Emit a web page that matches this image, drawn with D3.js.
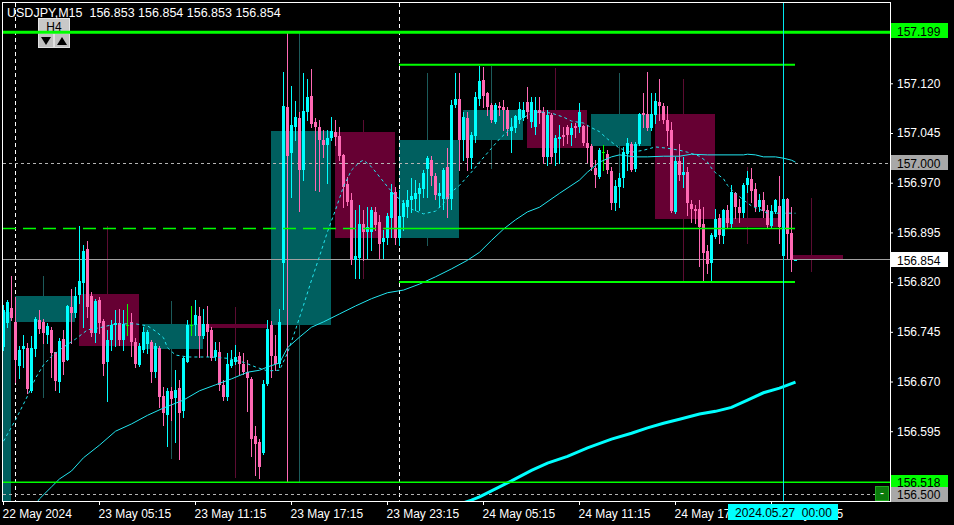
<!DOCTYPE html>
<html><head><meta charset="utf-8">
<script src="https://cdn.jsdelivr.net/npm/d3@7"></script>
<style>
html,body{margin:0;padding:0;background:#000;}
svg{display:block;}
text{font-family:"Liberation Sans",Arial,sans-serif;font-size:12px;white-space:pre;}
</style>
</head><body>
<svg id="c" width="954" height="525"></svg>
<script>
// ---------- DATA ----------
const symbolTitle = "USDJPY,M15  156.853 156.854 156.853 156.854";
const tfButton = "H4";
// M15 candles, index 0 = 22 May 23:15 ; [open, high, low, close]
const ohlc = [
[156.722,156.786,156.718,156.778],[156.758,156.793,156.752,156.790],[156.781,156.829,156.763,156.766],[156.760,156.798,156.669,156.703],
[156.694,156.724,156.676,156.718],[156.719,156.740,156.692,156.723],[156.721,156.728,156.652,156.658],[156.656,156.738,156.654,156.721],
[156.719,156.768,156.708,156.765],[156.763,156.778,156.743,156.749],[156.760,156.765,156.728,156.743],[156.740,156.758,156.728,156.754],
[156.748,156.753,156.677,156.713],[156.714,156.715,156.657,156.671],[156.670,156.735,156.654,156.731],[156.734,156.748,156.682,156.700],
[156.703,156.785,156.702,156.784],[156.782,156.809,156.728,156.774],[156.774,156.813,156.768,156.799],[156.800,156.905,156.788,156.821],
[156.819,156.876,156.753,156.867],[156.870,156.882,156.768,156.783],[156.799,156.805,156.738,156.743],[156.743,156.794,156.730,156.791],
[156.793,156.798,156.743,156.759],[156.761,156.765,156.680,156.697],[156.700,156.748,156.640,156.733],[156.733,156.763,156.718,156.755],
[156.755,156.778,156.723,156.758],[156.758,156.779,156.725,156.732],[156.733,156.778,156.718,156.757],[156.756,156.787,156.740,156.756],
[156.760,156.773,156.708,156.730],[156.730,156.735,156.692,156.696],[156.695,156.728,156.693,156.723],[156.718,156.753,156.715,156.745],
[156.727,156.748,156.713,156.744],[156.730,156.733,156.670,156.684],[156.684,156.728,156.677,156.723],[156.721,156.724,156.632,156.647],
[156.648,156.662,156.604,156.623],[156.619,156.660,156.573,156.655],[156.655,156.662,156.612,156.644],[156.645,156.687,156.579,156.657],
[156.660,156.672,156.553,156.623],[156.626,156.707,156.617,156.705],[156.700,156.763,156.699,156.755],[156.755,156.784,156.740,156.755],
[156.755,156.793,156.740,156.770],[156.769,156.782,156.707,156.738],[156.738,156.780,156.735,156.757],[156.757,156.784,156.708,156.745],
[156.748,156.753,156.702,156.705],[156.707,156.730,156.702,156.717],[156.715,156.730,156.657,156.665],[156.665,156.673,156.642,156.646],
[156.647,156.713,156.642,156.697],[156.694,156.718,156.692,156.703],[156.700,156.725,156.697,156.707],[156.708,156.715,156.682,156.697],
[156.697,156.713,156.682,156.684],[156.685,156.703,156.626,156.675],[156.674,156.677,156.557,156.584],[156.588,156.603,156.529,156.576],
[156.578,156.584,156.525,156.541],[156.562,156.672,156.561,156.666],[156.666,156.763,156.665,156.750],[156.755,156.762,156.677,156.708],
[156.708,156.740,156.687,156.697],[156.697,156.780,156.692,156.760],[156.849,157.137,156.780,157.086],[157.084,157.199,156.518,157.010],
[157.015,157.116,156.949,157.057],[157.054,157.093,157.034,157.069],[157.067,157.077,156.928,156.989],[156.989,157.135,156.974,157.078],
[157.076,157.126,157.065,157.100],[157.101,157.142,157.054,157.059],[157.061,157.067,156.959,157.054],[157.054,157.064,156.958,157.034],
[157.034,157.050,157.009,157.027],[157.027,157.050,156.969,157.038],[157.038,157.069,157.034,157.048],[157.047,157.064,157.027,157.039],
[157.040,157.054,157.004,157.010],[157.012,157.014,156.934,156.964],[156.968,156.979,156.936,156.941],[156.944,156.954,156.848,156.854],
[156.853,156.929,156.826,156.859],[156.856,156.936,156.826,156.908],[156.908,156.929,156.854,156.896],[156.896,156.934,156.856,156.903],
[156.896,156.934,156.868,156.929],[156.926,156.934,156.899,156.906],[156.911,156.921,156.856,156.878],[156.881,156.899,156.856,156.886],
[156.886,156.924,156.878,156.920],[156.916,156.968,156.888,156.956],[156.956,156.964,156.878,156.886],[156.886,156.959,156.876,156.920],
[156.919,156.944,156.899,156.939],[156.934,156.959,156.919,156.944],[156.944,156.977,156.926,156.950],[156.946,156.974,156.929,156.954],
[156.953,156.969,156.929,156.962],[156.960,156.989,156.949,156.984],[156.990,157.010,156.949,157.007],[157.005,157.010,156.966,156.980],
[156.980,156.984,156.946,156.951],[156.950,156.969,156.934,156.954],[156.945,156.992,156.931,156.989],[156.994,157.022,156.919,156.946],
[156.946,157.095,156.931,157.087],[157.087,157.136,157.085,157.097],[157.097,157.135,156.989,157.034],[157.034,157.077,157.004,157.069],
[157.067,157.077,156.989,157.007],[157.007,157.047,156.992,157.042],[157.040,157.107,157.032,157.100],[157.097,157.146,157.087,157.124],
[157.125,157.144,157.085,157.101],[157.105,157.107,157.072,157.085],[157.087,157.090,157.062,157.065],[157.062,157.090,157.060,157.087],
[157.086,157.092,157.072,157.082],[157.085,157.095,157.050,157.080],[157.080,157.085,157.042,157.051],[157.048,157.067,157.017,157.054],
[157.052,157.072,157.047,157.070],[157.065,157.092,157.060,157.081],[157.067,157.092,157.064,157.080],[157.092,157.115,157.067,157.077],
[157.062,157.100,157.054,157.092],[157.054,157.100,157.044,157.080],[157.080,157.100,157.060,157.075],[157.077,157.085,156.999,157.009],
[157.009,157.080,156.996,157.072],[157.072,157.075,156.999,157.009],[157.015,157.042,156.996,157.037],[157.036,157.057,156.999,157.039],
[157.042,157.054,157.027,157.039],[157.054,157.057,157.030,157.042],[157.042,157.060,157.027,157.053],[157.055,157.060,157.039,157.052],
[157.054,157.090,157.047,157.076],[157.055,157.057,157.027,157.030],[157.030,157.057,157.002,157.023],[157.025,157.029,156.989,156.994],
[156.992,157.004,156.964,156.981],[156.979,157.023,156.977,157.019],[157.017,157.027,156.989,157.017],[157.014,157.019,156.984,156.989],
[156.988,156.994,156.931,156.939],[156.939,156.974,156.929,156.965],[156.963,156.984,156.934,156.977],[156.977,157.024,156.964,157.017],
[157.014,157.037,156.989,157.030],[157.029,157.032,156.987,156.989],[156.990,157.032,156.987,157.029],[157.029,157.075,157.027,157.074],
[157.075,157.105,157.054,157.072],[157.073,157.137,157.050,157.052],[157.052,157.105,157.050,157.074],[157.072,157.105,157.060,157.094],
[157.092,157.126,157.065,157.086],[157.086,157.091,157.060,157.065],[157.065,157.086,157.027,157.048],[157.050,157.062,156.926,156.928],
[156.926,157.009,156.925,157.003],[157.003,157.028,156.974,156.981],[156.981,157.009,156.964,156.986],[156.986,156.993,156.921,156.940],
[156.938,156.944,156.911,156.931],[156.931,156.936,156.909,156.928],[156.930,156.944,156.845,156.903],[156.908,156.934,156.821,156.864],
[156.867,156.876,156.834,156.848],[156.849,156.894,156.821,156.891],[156.888,156.931,156.887,156.915],[156.916,156.923,156.879,156.891],
[156.890,156.931,156.879,156.929],[156.929,156.936,156.903,156.909],[156.908,156.966,156.903,156.956],[156.954,156.956,156.916,156.934],
[156.934,156.946,156.911,156.925],[156.925,156.970,156.919,156.966],[156.966,156.988,156.956,156.977],[156.975,156.992,156.941,156.958],
[156.960,156.969,156.928,156.934],[156.933,156.953,156.928,156.944],[156.944,156.956,156.919,156.928],[156.929,156.936,156.903,156.906],
[156.905,156.936,156.903,156.928],[156.926,156.946,156.924,156.944],[156.935,156.980,156.879,156.903],[156.859,156.945,156.858,156.945],
[156.946,156.947,156.856,156.892],[156.894,156.933,156.837,156.853],[156.853,156.854,156.853,156.854]
];
// H4 candles overlay (first / last / middle M15 bar index) and OHLC
const h4Start = [-13, 3, 19, 35, 51, 67, 83, 99, 115, 131, 147, 163, 179, 197];
const h4End   = [2, 18, 34, 50, 66, 82, 98, 114, 130, 146, 162, 178, 194, 210];
const h4Mid   = [-6, 10, 26, 42, 58, 74, 90, 106, 122, 138, 154, 170, 186, 202];
const h4Ohlc = [
[156.470,156.830,156.450,156.775],[156.760,156.829,156.646,156.799],[156.802,156.905,156.640,156.723],
[156.719,156.791,156.554,156.757],[156.757,156.782,156.526,156.751],[156.755,157.199,156.518,157.048],
[157.047,157.064,156.826,156.887],[156.887,157.135,156.876,157.035],[157.034,157.146,156.992,157.080],
[157.079,157.143,156.996,157.023],[157.025,157.136,156.934,157.074],[157.074,157.126,156.821,156.915],
[156.917,156.994,156.879,156.903],[156.861,156.947,156.837,156.854]
];
// moving averages (bar index, value)
const maFastIdx = [0,3,6,8,10,12,15,18,21,24,28,33,36,38,40,41,43,46,52,56,60,63,66,69,71,73,75,77,79,81,83,85,87,89,90,92,94,96,98,100,102,105,108,110,112,114,117,119,122,124,127,129,132,134,137,140,142,145,147,149,151,154,157,160,163,166,169,171,174,176,177,178,180,181,183,185,187,189,191,193,195,198];
const maFastVal = [156.580,156.612,156.648,156.675,156.695,156.708,156.722,156.734,156.748,156.751,156.757,156.757,156.754,156.746,156.736,156.721,156.710,156.707,156.707,156.705,156.699,156.692,156.686,156.687,156.713,156.748,156.785,156.823,156.859,156.896,156.929,156.964,156.989,157.001,157.004,156.994,156.979,156.964,156.950,156.941,156.930,156.923,156.927,156.939,156.956,156.966,156.986,157.001,157.022,157.036,157.053,157.065,157.075,157.077,157.075,157.069,157.063,157.060,157.053,157.047,157.036,157.022,157.016,157.019,157.024,157.022,157.019,157.016,157.010,157.001,156.992,156.985,156.976,156.966,156.954,156.944,156.935,156.930,156.924,156.924,156.924,156.924];
const maMidIdx = [7,9,12,14,17,20,24,28,32,36,40,45,49,53,57,61,64,66,69,71,74,77,80,84,88,92,96,100,104,108,112,116,119,122,125,128,131,134,139,144,146,149,152,154,158,161,165,169,172,176,185,186,188,190,193,195,197,198];
const maMidVal = [156.476,156.493,156.511,156.523,156.535,156.555,156.574,156.595,156.606,156.619,156.630,156.642,156.656,156.665,156.674,156.684,156.687,156.692,156.698,156.721,156.737,156.752,156.760,156.772,156.784,156.795,156.804,156.808,156.817,156.828,156.840,156.853,156.865,156.883,156.900,156.914,156.926,156.933,156.954,156.974,156.986,157.001,157.009,157.012,157.009,157.009,157.010,157.010,157.013,157.012,157.012,157.013,157.012,157.009,157.009,157.007,157.004,157.001];
const maSlowIdx = [115,117,119,124,127,132,136,141,146,152,157,161,165,169,174,178,182,186,190,194,198];
const maSlowVal = [156.487,156.491,156.496,156.511,156.520,156.536,156.547,156.557,156.570,156.583,156.592,156.600,156.607,156.613,156.621,156.625,156.631,156.642,156.653,156.660,156.669];
// levels
const rangeHigh = 157.199, rangeLow = 156.518;
const zoneTop = 157.148, zoneMid = 156.901, zoneBottom = 156.820;
const zoneFromIdx = 99, zoneMidSolidFromIdx = 96, zoneToIdx = 198;
const roundLevels = [157.000, 156.500];
const bidPrice = 156.854;
const separatorIdx = [3, 99];
const cursorIdx = 195, cursorLabel = "2024.05.27  00:00";
const priceTicks = [157.120, 157.045, 156.970, 156.895, 156.820, 156.745, 156.670, 156.595];
const timeTickIdx = [0, 24, 48, 72, 96, 120, 144, 168, 192];
const timeTickLabels = ["22 May 2024","23 May 05:15","23 May 11:15","23 May 17:15","23 May 23:15","24 May 05:15","24 May 11:15","24 May 17:15","24 May 23:15"];

// ---------- CHART ----------
const bull = "#00ffff", bear = "#ff69b4", doji = "#00ff00";
const svg = d3.select("#c");
svg.append("rect").attr("width",954).attr("height",525).attr("fill","#000");
svg.append("defs").append("clipPath").attr("id","plot")
  .append("rect").attr("x",3).attr("y",3).attr("width",887).attr("height",498);

const x = d3.scaleLinear().domain([0,198]).range([3,795]);
const y = d3.scaleLinear().domain([156.4897,157.2427]).range([501,2]);
const X0 = 3, X1 = 890;

const g = svg.append("g").attr("clip-path","url(#plot)");

// H4 overlay
const gh = g.append("g").attr("shape-rendering","crispEdges");
h4Ohlc.forEach((d,k)=>{
  const [o,h,l,c] = d;
  const up = c >= o;
  gh.append("line").attr("x1",x(h4Mid[k])+0.5).attr("x2",x(h4Mid[k])+0.5)
    .attr("y1",Math.round(y(h))).attr("y2",Math.round(y(l))+1)
    .attr("stroke", up ? "#1c5a5a" : "#5c0c32");
  const yt = Math.round(y(Math.max(o,c))), yb = Math.round(y(Math.min(o,c)));
  gh.append("rect").attr("x",x(h4Start[k])).attr("y",yt)
    .attr("width",x(h4End[k])-x(h4Start[k])).attr("height",Math.max(1,yb-yt))
    .attr("fill", up ? "#005f5f" : "#660033");
});

// period separators
separatorIdx.forEach(i=>{
  g.append("line").attr("x1",x(i)+0.5).attr("x2",x(i)+0.5).attr("y1",3).attr("y2",501)
    .attr("stroke","#ffffff").attr("stroke-dasharray","4,3").attr("shape-rendering","crispEdges");
});
// round levels
roundLevels.forEach(p=>{
  g.append("line").attr("x1",X0).attr("x2",X1).attr("y1",Math.round(y(p))+0.5).attr("y2",Math.round(y(p))+0.5)
    .attr("stroke","#b4b4b4").attr("stroke-dasharray","3,3").attr("shape-rendering","crispEdges");
});
// bid line
g.append("line").attr("x1",X0).attr("x2",X1).attr("y1",Math.round(y(bidPrice))-0.5).attr("y2",Math.round(y(bidPrice))-0.5)
  .attr("stroke","#a0a0a0").attr("shape-rendering","crispEdges");

// candles
const gc = g.append("g").attr("shape-rendering","crispEdges");
ohlc.forEach((d,i)=>{
  const [o,h,l,c] = d;
  const col = c>o ? bull : (c<o ? bear : doji);
  const cx = x(i);
  gc.append("line").attr("x1",cx+0.5).attr("x2",cx+0.5)
    .attr("y1",Math.round(y(h))).attr("y2",Math.round(y(l))+1).attr("stroke",col);
  const yt = Math.round(y(Math.max(o,c))), yb = Math.round(y(Math.min(o,c)));
  gc.append("rect").attr("x",cx-1).attr("y",yt).attr("width",3).attr("height",Math.max(1,yb-yt)).attr("fill",col);
});

// moving averages
const line = d3.line().x(d=>x(d[0])+0.5).y(d=>y(d[1]));
g.append("path").datum(d3.zip(maSlowIdx,maSlowVal)).attr("d",line)
  .attr("fill","none").attr("stroke",bull).attr("stroke-width",3);
g.append("path").datum(d3.zip(maMidIdx,maMidVal)).attr("d",line)
  .attr("fill","none").attr("stroke","#22e6f0").attr("stroke-width",1);
g.append("path").datum(d3.zip(maFastIdx,maFastVal)).attr("d",line)
  .attr("fill","none").attr("stroke","#22e6f0").attr("stroke-width",1).attr("stroke-dasharray","3,3");

// timeframe buttons (under the lines)
const btn = svg.append("g").attr("shape-rendering","crispEdges");
btn.append("rect").attr("x",38.5).attr("y",18.5).attr("width",31).attr("height",13).attr("fill","#c8c8c8").attr("stroke","#e6e6e6");
btn.append("text").attr("x",54).attr("y",30.5).attr("text-anchor","middle").attr("fill","#000").style("font-size","12px").text(tfButton);
btn.append("rect").attr("x",38.5).attr("y",33.5).attr("width",15).attr("height",14).attr("fill","#c0c0c0").attr("stroke","#e0e0e0");
btn.append("rect").attr("x",54.5).attr("y",33.5).attr("width",15).attr("height",14).attr("fill","#c0c0c0").attr("stroke","#e0e0e0");
btn.append("path").attr("d","M41,37 L51,37 L46,45 Z").attr("fill","#000").attr("shape-rendering","auto");
btn.append("path").attr("d","M57,45 L67,45 L62,37 Z").attr("fill","#000").attr("shape-rendering","auto");

// green levels
const gl = svg.append("g").attr("clip-path","url(#plot)");
gl.append("line").attr("x1",X0).attr("x2",X1).attr("y1",y(rangeHigh)+1.2).attr("y2",y(rangeHigh)+1.2)
  .attr("stroke","#00ff00").attr("stroke-width",3);
gl.append("line").attr("x1",X0).attr("x2",X1).attr("y1",y(rangeLow)).attr("y2",y(rangeLow))
  .attr("stroke","#00ff00").attr("stroke-width",1.5);
[zoneTop, zoneBottom].forEach(p=>{
  gl.append("line").attr("x1",x(zoneFromIdx)).attr("x2",x(zoneToIdx)).attr("y1",y(p)).attr("y2",y(p))
    .attr("stroke","#00ff00").attr("stroke-width",2);
});
gl.append("line").attr("x1",X0).attr("x2",x(zoneMidSolidFromIdx)).attr("y1",y(zoneMid)).attr("y2",y(zoneMid))
  .attr("stroke","#00ff00").attr("stroke-width",1.5).attr("stroke-dasharray","13,7");
gl.append("line").attr("x1",x(zoneMidSolidFromIdx)).attr("x2",x(zoneToIdx)).attr("y1",y(zoneMid)).attr("y2",y(zoneMid))
  .attr("stroke","#00ff00").attr("stroke-width",1.5);

// cursor vertical line
svg.append("line").attr("x1",x(cursorIdx)+0.5).attr("x2",x(cursorIdx)+0.5).attr("y1",3).attr("y2",501)
  .attr("stroke","#00e8f0").attr("shape-rendering","crispEdges");

// small green button bottom-right
svg.append("rect").attr("x",875.5).attr("y",486.5).attr("width",13).attr("height",14)
  .attr("fill","#0b7a0b").attr("stroke","#1fa81f").attr("shape-rendering","crispEdges");
svg.append("text").attr("x",882).attr("y",497).attr("text-anchor","middle").attr("fill","#fff").attr("font-size","10px").text("-");

// frame
svg.append("rect").attr("x",2.5).attr("y",2.5).attr("width",888).attr("height",499)
  .attr("fill","none").attr("stroke","#fff").attr("shape-rendering","crispEdges");

// right price axis
const ay = svg.append("g").attr("transform","translate(890,0)")
  .call(d3.axisRight(y).tickValues(priceTicks).tickFormat(d3.format(".3f")).tickSize(3).tickPadding(4).tickSizeOuter(0));
ay.select(".domain").remove();
ay.selectAll("line").attr("stroke","#fff");
ay.selectAll("text").attr("fill","#fff").style("font-size","12px").style("font-family","Liberation Sans, Arial, sans-serif");

// bottom time axis
const ax = svg.append("g").attr("transform","translate(0,501)")
  .call(d3.axisBottom(x).tickValues(timeTickIdx).tickFormat((d,i)=>timeTickLabels[i]).tickSize(4).tickPadding(4).tickSizeOuter(0));
ax.select(".domain").remove();
ax.selectAll("line").attr("stroke","#fff");
ax.selectAll("text").attr("fill","#fff").attr("text-anchor","start").attr("x",-1)
  .style("font-size","12px").style("font-family","Liberation Sans, Arial, sans-serif");

// price label boxes
const boxes = [
  {p: rangeHigh, fill:"#00ff00"},
  {p: roundLevels[0], fill:"#a8a8a8"},
  {p: bidPrice, fill:"#ffffff"},
  {p: rangeLow, fill:"#00ff00"},
  {p: roundLevels[1], fill:"#a8a8a8"}
];
boxes.forEach(b=>{
  const yc = y(b.p);
  svg.append("rect").attr("x",891).attr("y",Math.round(yc-7.5)).attr("width",57).attr("height",15)
    .attr("fill",b.fill).attr("shape-rendering","crispEdges");
  svg.append("text").attr("x",897).attr("y",Math.round(yc)+4.5).attr("fill","#000").text(d3.format(".3f")(b.p));
});

// cursor time label
svg.append("rect").attr("x",x(cursorIdx)-55).attr("y",504).attr("width",110).attr("height",16)
  .attr("fill","#00ffff").attr("shape-rendering","crispEdges");
svg.append("text").attr("x",x(cursorIdx)+0.5).attr("y",516.5).attr("text-anchor","middle").attr("fill","#000").text(cursorLabel);

// title
svg.append("text").attr("x",7).attr("y",16.5).attr("fill","#fff").style("font-size","12.5px").text(symbolTitle);
</script>
</body></html>
